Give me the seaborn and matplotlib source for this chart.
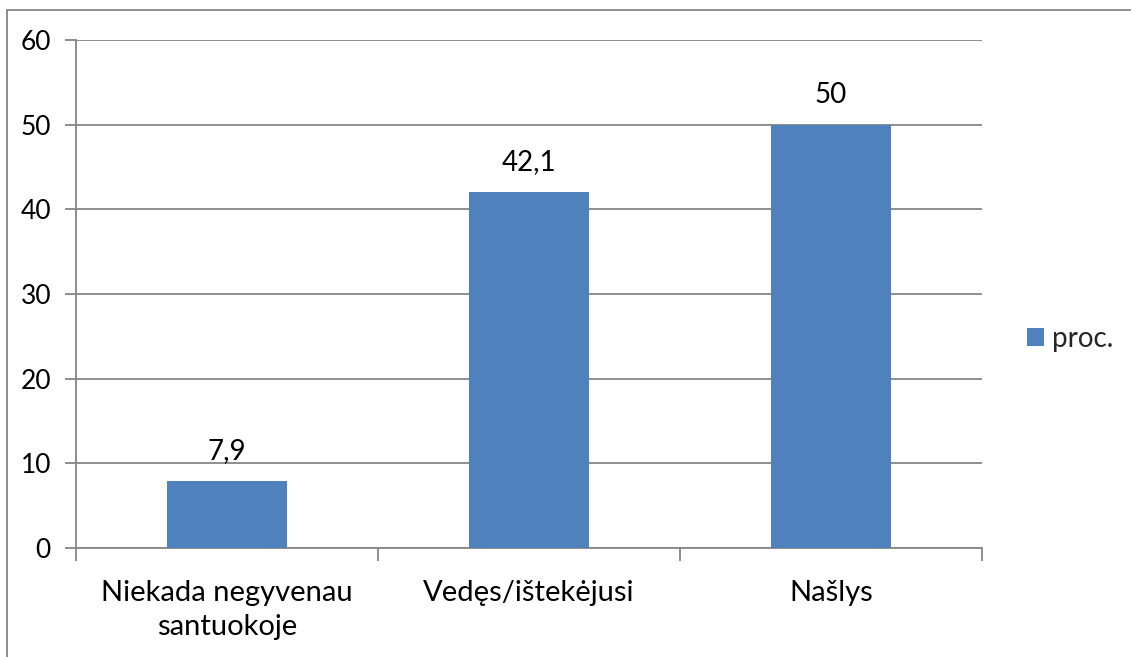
import numpy as np
import pandas as pd
import seaborn as sns
import matplotlib.pyplot as plt
from matplotlib.patches import Rectangle, Patch

categories = ['Niekada negyvenau\nsantuokoje', 'Vedęs/ištekėjusi', 'Našlys']
values = [7.9, 42.1, 50]
value_labels = ['7,9', '42,1', '50']
series_name = 'proc.'

df = pd.DataFrame({'cat': categories, 'val': values})

sns.set_theme(style='white')
plt.rcParams['font.family'] = ['Lato', 'DejaVu Sans']
grid_col = '#868686'
bar_col = '#4F81BD'

fig = plt.figure(figsize=(11.31, 6.57), dpi=100)
ax = fig.add_axes([76 / 1131, 1 - 548 / 657, (982 - 76) / 1131, (548 - 40) / 657])

sns.barplot(data=df, x='cat', y='val', color=bar_col, width=0.4, saturation=1,
            linewidth=0, edgecolor='none', ax=ax, zorder=3)

ax.set_ylim(0, 60)
ax.set_xlim(-0.5, 2.5)
ax.set_yticks(np.arange(0, 61, 10))
ax.yaxis.grid(True, color=grid_col, linewidth=1.3, zorder=0)
ax.set_axisbelow(True)
for s in ['top', 'right']:
    ax.spines[s].set_visible(False)
for s in ['left', 'bottom']:
    ax.spines[s].set_color(grid_col)
    ax.spines[s].set_linewidth(1.3)

ax.set_xlabel('')
ax.set_ylabel('')
ax.tick_params(axis='y', left=True, length=8, width=1.3, color=grid_col,
               labelsize=19, pad=10, labelcolor='black')
ax.set_xticks([0, 1, 2])
ax.set_xticklabels(categories, fontsize=21, color='black', linespacing=1.4)
ax.tick_params(axis='x', bottom=False, pad=17)
# boundary tick marks between categories
ax.set_xticks([-0.5, 0.5, 1.5, 2.5], minor=True)
ax.tick_params(axis='x', which='minor', bottom=True, length=9, width=1.3, color=grid_col)

for i, (v, lab) in enumerate(zip(values, value_labels)):
    ax.annotate(lab, (i, v), xytext=(0, 12), textcoords='offset points',
                ha='center', va='bottom', fontsize=20, color='black')

handle = Patch(facecolor=bar_col, edgecolor='none')
fig.legend([handle], [series_name], loc='center left', bbox_to_anchor=(1013 / 1131, 1 - 339 / 657),
           frameon=False, fontsize=20, handlelength=0.6, handleheight=0.6, handletextpad=0.3,
           borderpad=0)

fig.patches.append(Rectangle((7 / 1131, -0.1), 1.2, 1 - 10 / 657 + 0.1, transform=fig.transFigure,
                             fill=False, edgecolor=grid_col, linewidth=1.3))

fig.savefig('out.png', dpi=100)
